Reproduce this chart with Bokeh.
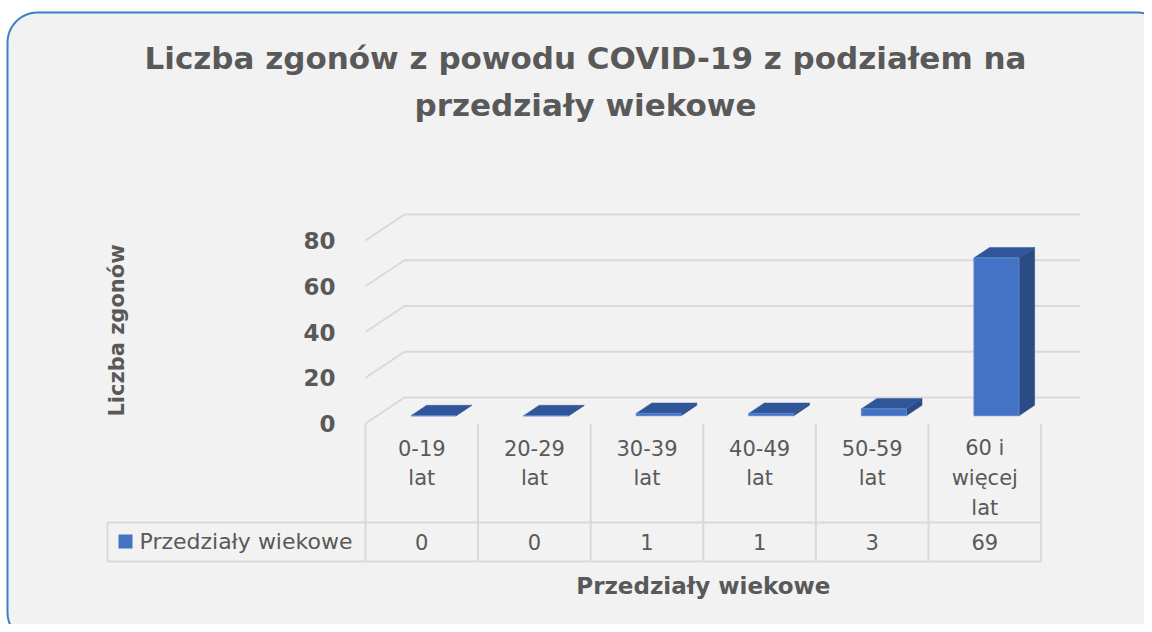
import math
from bokeh.plotting import figure
from bokeh.models import Range1d
from bokeh.core.properties import value
from bokeh.embed import file_html
from bokeh.resources import INLINE

# ---------------- data ----------------
categories = ["0-19 lat", "20-29 lat", "30-39 lat", "40-49 lat", "50-59 lat", "60 i więcej lat"]
category_lines = [["0-19", "lat"], ["20-29", "lat"], ["30-39", "lat"],
                  ["40-49", "lat"], ["50-59", "lat"], ["60 i", "więcej", "lat"]]
deaths = [0, 0, 1, 1, 3, 69]
series_name = "Przedziały wiekowe"
y_ticks = [0, 20, 40, 60, 80]
title_lines = ["Liczba zgonów z powodu COVID-19 z podziałem na", "przedziały wiekowe"]
y_title = "Liczba zgonów"
x_title = "Przedziały wiekowe"

# ---------------- layout (canvas pixels) ----------------
W, H = 1144, 624
CAT_PX = 112.6          # width of one category column
UNIT_PX = 2.2875        # pixels per death
FLOOR_LEFT = 365        # canvas x of front-left floor corner
BACK_ZERO = 397         # canvas y of value 0 on the back wall
DEPTH_PX = (39, 26)     # oblique depth offset (right, up)

def dx(xc):
    return (xc - FLOOR_LEFT) / CAT_PX - 0.5

def dy(yc):
    return (BACK_ZERO - yc) / UNIT_PX

DX = DEPTH_PX[0] / CAT_PX
DY = DEPTH_PX[1] / UNIT_PX

def proj(c, v, t):
    """c: category position, v: value, t: depth (0 front, 1 back)"""
    return c + t * DX, v - (1 - t) * DY

TEXT = "#595959"
FONT = value("DejaVu Sans")
GRID = "#d9d9d9"

p = figure(width=W, height=H, x_range=Range1d(dx(0), dx(W)), y_range=Range1d(dy(H), dy(0)),
           x_axis_type=None, y_axis_type=None, toolbar_location=None, output_backend="svg",
           min_border=0, title=None)
p.background_fill_color = "white"
p.border_fill_color = "white"
p.outline_line_color = None
p.grid.visible = False

# chart area panel with rounded corners (pixel geometry -> data)
def rounded_rect(l, t, r, b, rad, steps=12):
    pts = []
    corners = [(r - rad, t + rad, -90, 0), (r - rad, b - rad, 0, 90),
               (l + rad, b - rad, 90, 180), (l + rad, t + rad, 180, 270)]
    for cx, cy, a0, a1 in corners:
        for k in range(steps + 1):
            a = math.radians(a0 + (a1 - a0) * k / steps)
            pts.append((cx + rad * math.cos(a), cy + rad * math.sin(a)))
    pts.append(pts[0])
    return [dx(x) for x, _ in pts], [dy(y) for _, y in pts]

bx, by = rounded_rect(7, 12, 1167, 642, 30)
p.patch(bx, by, fill_color="#f2f2f2", line_color="#3a80c4", line_width=2)

n = len(deaths)
c_left, c_right = -0.5, n - 0.5

# gridlines: left wall + back wall
gx, gy = [], []
for v in y_ticks:
    a = proj(c_left, v, 0); b = proj(c_left, v, 1); c = proj(c_right, v, 1)
    gx.append([a[0], b[0], c[0]]); gy.append([a[1], b[1], c[1]])
p.multi_line(gx, gy, line_color=GRID, line_width=2)

# y tick labels at the front plane
p.text(x=[proj(c_left, v, 0)[0] for v in y_ticks], y=[proj(c_left, v, 0)[1] for v in y_ticks],
       text=[str(v) for v in y_ticks], x_offset=-30, text_align="right", text_baseline="middle",
       text_font=FONT, text_font_style="bold", text_font_size="23px", text_color=TEXT)

# 3D bars
half_w = 0.2
t_front, t_back = 0.3, 0.7
fx, fy, tx, ty, sx, sy = [], [], [], [], [], []
for i, val in enumerate(deaths):
    l, r = i - half_w, i + half_w
    p1 = proj(l, 0, t_front); p2 = proj(r, 0, t_front); p3 = proj(r, val, t_front); p4 = proj(l, val, t_front)
    fx.append([p1[0], p2[0], p3[0], p4[0]]); fy.append([p1[1], p2[1], p3[1], p4[1]])
    q1 = proj(l, val, t_front); q2 = proj(r, val, t_front); q3 = proj(r, val, t_back); q4 = proj(l, val, t_back)
    tx.append([q1[0], q2[0], q3[0], q4[0]]); ty.append([q1[1], q2[1], q3[1], q4[1]])
    s1 = proj(r, 0, t_front); s2 = proj(r, 0, t_back); s3 = proj(r, val, t_back); s4 = proj(r, val, t_front)
    sx.append([s1[0], s2[0], s3[0], s4[0]]); sy.append([s1[1], s2[1], s3[1], s4[1]])
p.patches(sx, sy, fill_color="#2a4b84", line_color="#2a4b84", line_width=0.5)
p.patches(tx, ty, fill_color="#30569a", line_color="#30569a", line_width=0.5)
p.patches(fx, fy, fill_color="#4472c4", line_color="#5b86d0", line_width=1)

# data table
y_top, y_mid, y_bot = dy(423), dy(522), dy(561)
x_tab_left = dx(107)
tlx, tly = [], []
for k in range(n + 1):
    c = c_left + k
    tlx.append([c, c]); tly.append([y_top, y_bot])
tlx.append([x_tab_left, x_tab_left]); tly.append([y_mid, y_bot])
tlx.append([x_tab_left, c_right]); tly.append([y_mid, y_mid])
tlx.append([x_tab_left, c_right]); tly.append([y_bot, y_bot])
p.multi_line(tlx, tly, line_color=GRID, line_width=2)

# category labels (each line separately)
lx, ly, lt = [], [], []
line_y = [447, 477, 507]
for i, lines in enumerate(category_lines):
    for j, s in enumerate(lines):
        lx.append(i); ly.append(dy(line_y[j])); lt.append(s)
p.text(x=lx, y=ly, text=lt, text_align="center", text_baseline="middle",
       text_font=FONT, text_font_size="21px", text_color=TEXT)

# values row
p.text(x=list(range(n)), y=[dy(541)] * n, text=[str(v) for v in deaths], text_align="center",
       text_baseline="middle", text_font=FONT, text_font_size="21px", text_color=TEXT)

# legend key inside table
p.quad(left=[dx(118)], right=[dx(132)], top=[dy(534)], bottom=[dy(548)],
       fill_color="#4472c4", line_color=None)
p.text(x=[dx(139)], y=[dy(541)], text=[series_name], text_align="left", text_baseline="middle",
       text_font=FONT, text_font_size="22px", text_color=TEXT)

# titles
p.text(x=[dx(585)] * 2, y=[dy(57), dy(104)], text=title_lines, text_align="center",
       text_baseline="middle", text_font=FONT, text_font_style="bold", text_font_size="31px",
       text_color=TEXT)
p.text(x=[dx(116)], y=[dy(330)], text=[y_title], angle=math.pi / 2, text_align="center",
       text_baseline="middle", text_font=FONT, text_font_style="bold", text_font_size="21px",
       text_color=TEXT)
p.text(x=[(c_left + c_right) / 2], y=[dy(585)], text=[x_title], text_align="center",
       text_baseline="middle", text_font=FONT, text_font_style="bold", text_font_size="23px",
       text_color=TEXT)

open("out.html", "w").write(file_html(p, INLINE))
